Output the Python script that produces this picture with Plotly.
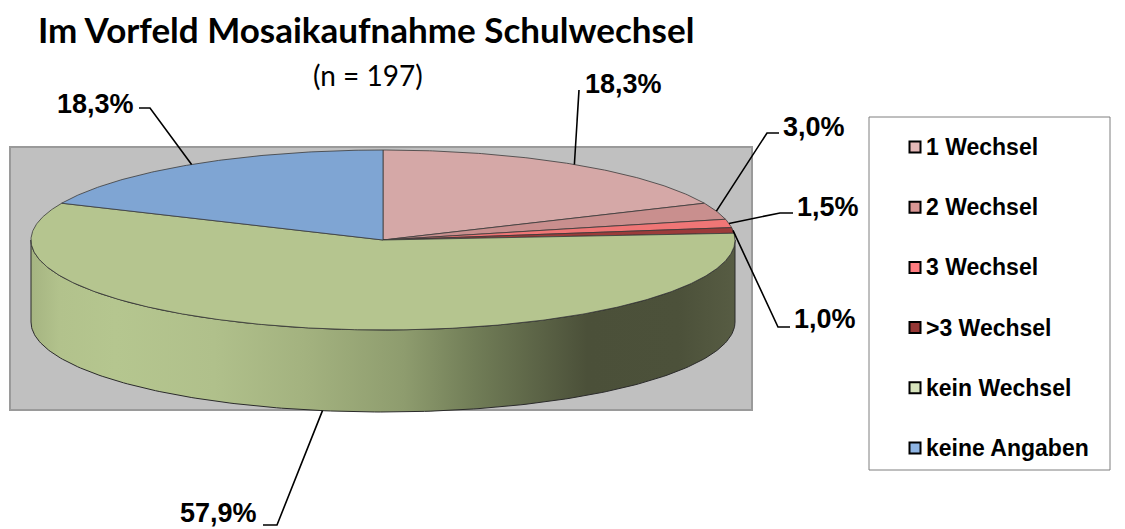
import numpy as np
import plotly.graph_objects as go

# ---------------- data ----------------
categories = ["1 Wechsel", "2 Wechsel", "3 Wechsel", ">3 Wechsel", "kein Wechsel", "keine Angaben"]
percentages = [18.3, 3.0, 1.5, 1.0, 57.9, 18.3]
labels = ["18,3%", "3,0%", "1,5%", "1,0%", "57,9%", "18,3%"]
top_colors = ["#d5a8a7", "#c98f8e", "#f07676", "#9c3b3a", "#b5c58f", "#7fa5d3"]
legend_colors = ["#e6b9b8", "#d99694", "#ff7c80", "#953735", "#d7e4bd", "#8eb4e3"]
title_text = "Im Vorfeld Mosaikaufnahme Schulwechsel"
subtitle_text = "(n = 197)"

# ---------------- geometry (screen-pixel space) ----------------
W, H = 1125, 529
OFF = 8                    # page body margin of the html page
cx, cy = 383, 240          # pie centre (top face)
ra, rb = 352, 90           # ellipse semi-axes
depth = 82                 # thickness of the 3D pie


def ell(theta_deg, dy=0.0):
    t = np.radians(theta_deg)
    return cx + ra * np.sin(t), cy - rb * np.cos(t) + dy


fig = go.Figure()

# plot-area grey rectangle
fig.add_shape(type="rect", x0=10, y0=147, x1=752, y1=410, xref="x", yref="y",
              fillcolor="#c0c0c0", line=dict(color="#9a9a9a", width=2), layer="below")
# legend frame
fig.add_shape(type="rect", x0=869, y0=117, x1=1110, y1=470, xref="x", yref="y",
              fillcolor="white", line=dict(color="#7f7f7f", width=1), layer="below")

vals = np.array(percentages, dtype=float)
ends = np.cumsum(vals) / vals.sum() * 360.0
starts = np.concatenate([[0.0], ends[:-1]])
mids = (starts + ends) / 2

side_scale = [[0.0, "#a5b481"], [0.04, "#b2c28c"], [0.12, "#b5c68f"], [0.26, "#b0c08b"],
              [0.39, "#a3b27f"], [0.53, "#8e9c6e"], [0.63, "#717d57"], [0.79, "#4b5039"],
              [0.92, "#4c513a"], [1.0, "#575c43"]]

# side faces (front half only: 90..270 degrees)
for s, e in zip(starts, ends):
    lo, hi = max(s, 90.0), min(e, 270.0)
    if hi <= lo:
        continue
    th = np.linspace(lo, hi, 200)
    xt, yt = ell(th)
    xb, yb = ell(th[::-1], depth)
    fig.add_trace(go.Scatter(
        x=np.concatenate([xt, xb, xt[:1]]), y=np.concatenate([yt, yb, yt[:1]]),
        mode="lines", fill="toself", line=dict(color="#2a2a2a", width=1),
        fillgradient=dict(type="horizontal", colorscale=side_scale,
                          start=cx - ra, stop=cx + ra),
        hoverinfo="skip", showlegend=False))

# top faces
for s, e, col, name in zip(starts, ends, top_colors, categories):
    th = np.linspace(s, e, max(int((e - s) * 2), 6))
    xa, ya = ell(th)
    fig.add_trace(go.Scatter(
        x=np.concatenate([[cx], xa, [cx]]), y=np.concatenate([[cy], ya, [cy]]),
        mode="lines", fill="toself", fillcolor=col,
        line=dict(color="#3a3a3a", width=0.8), name=name,
        hoverinfo="name", showlegend=False))

# ---------------- leader lines & labels ----------------
label_layout = [
    dict(pts=[(579, 90)], tx=583, ty=84, anchor="left"),                      # 1 Wechsel
    dict(pts=[(779, 133), (767, 133)], tx=781, ty=127, anchor="left"),        # 2 Wechsel
    dict(pts=[(793, 213), (780, 213)], tx=795, ty=207, anchor="left"),        # 3 Wechsel
    dict(pts=[(790, 327), (778, 327)], tx=792, ty=319, anchor="left"),        # >3 Wechsel
    dict(pts=[(263, 525), (277, 525)], tx=259, ty=513, anchor="right"),       # kein Wechsel
    dict(pts=[(139, 108), (150, 108)], tx=136, ty=104, anchor="right"),       # keine Angaben
]

for m, lab, lay in zip(mids, labels, label_layout):
    on_side = 90 < m < 270
    ax_, ay_ = ell(m, depth if on_side else 0)
    xs = [p[0] for p in lay["pts"]] + [ax_]
    ys = [p[1] for p in lay["pts"]] + [ay_]
    fig.add_trace(go.Scatter(x=xs, y=ys, mode="lines",
                             line=dict(color="black", width=1.6),
                             hoverinfo="skip", showlegend=False))
    fig.add_annotation(x=lay["tx"], y=lay["ty"], text=lab, showarrow=False,
                       xanchor=lay["anchor"], yanchor="middle", xref="x", yref="y",
                       font=dict(family="Liberation Sans, Arial", size=27, color="black",
                                 weight="bold"))

# ---------------- legend (drawn manually) ----------------
leg_y = [147 + 60.2 * i for i in range(len(categories))]
fig.add_trace(go.Scatter(x=[915] * len(categories), y=leg_y, mode="markers",
                         marker=dict(symbol="square", size=11, color=legend_colors,
                                     line=dict(color="black", width=2)),
                         hoverinfo="skip", showlegend=False))
for name, yy in zip(categories, leg_y):
    fig.add_annotation(x=924, y=yy, text=name, showarrow=False, xanchor="left",
                       yanchor="middle", xref="x", yref="y",
                       font=dict(family="Liberation Sans, Arial", size=23, color="black",
                                 weight="bold"))

# ---------------- titles ----------------
fig.add_annotation(x=366, y=29, text=title_text, showarrow=False, xanchor="center",
                   yanchor="middle", xref="x", yref="y",
                   font=dict(family="Lato", size=35, color="black", weight="bold"))
fig.add_annotation(x=368, y=75, text=subtitle_text, showarrow=False, xanchor="center",
                   yanchor="middle", xref="x", yref="y",
                   font=dict(family="Lato", size=28, color="black"))

fig.update_layout(
    width=W, height=H, margin=dict(l=0, r=0, t=0, b=0),
    paper_bgcolor="white", plot_bgcolor="white",
    xaxis=dict(range=[OFF, W + OFF], visible=False, fixedrange=True),
    yaxis=dict(range=[H + OFF, OFF], visible=False, fixedrange=True),
    showlegend=False,
)

fig.write_html("out.html")
